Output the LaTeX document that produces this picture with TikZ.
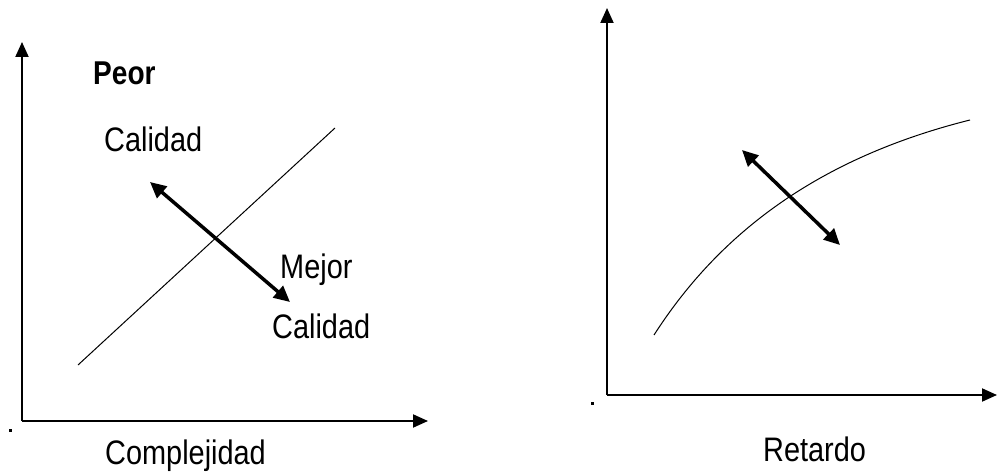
\documentclass[tikz,border=0pt]{standalone}
\usepackage{fontspec}
\setmainfont{Liberation Sans}[FakeStretch=0.85]
\usetikzlibrary{arrows.meta}
\tikzset{
  axis/.style={line width=2pt, -{Triangle[length=15pt,width=13pt]}},
  thinline/.style={line width=1pt},
  dbl/.style={line width=3.5pt, {Triangle[length=16pt,width=15pt]}-{Triangle[length=16pt,width=15pt]}},
  lbl/.style={anchor=base west, inner sep=0pt, font=\fontsize{34}{40}\selectfont},
  dot/.style={fill=black}
}
\begin{document}
\begin{tikzpicture}[x=1pt,y=-1pt]
\useasboundingbox (0,0) rectangle (997,476);
\fill[white] (0,0) rectangle (997,476);
% left chart
\coordinate (lo) at (22,421);
\coordinate (ly) at (22,42);
\coordinate (lx) at (428,421);
\draw[axis] (lo) -- (ly);
\draw[axis] (lo) -- (lx);
\fill[dot] (8.5,428.5) rectangle (11.5,431.5);
\coordinate (d1) at (78,365);
\coordinate (d2) at (335,128);
\draw[thinline] (d1) -- (d2);
\coordinate (a1) at (150,182);
\coordinate (a2) at (290,302);
\draw[dbl] (a1) -- (a2);
\node[lbl, font=\fontsize{33}{40}\selectfont\bfseries] (peor) at (93,85) {Peor};
\node[lbl] (cal1) at (104,152) {Calidad};
\node[lbl] (mejor) at (280,278) {Mejor};
\node[lbl] (cal2) at (272,338) {Calidad};
\node[lbl] (comp) at (105,464) {Complejidad};
% right chart
\coordinate (ro) at (607,395);
\coordinate (ry) at (607,8);
\coordinate (rx) at (997,395);
\draw[axis] (ro) -- (ry);
\draw[axis] (ro) -- (rx);
\fill[dot] (590.5,401.5) rectangle (593.5,404.5);
\coordinate (c1) at (654,335);
\coordinate (c2) at (970,120);
\draw[thinline] (c1) .. controls (715,240) and (810,160) .. (c2);
\coordinate (b1) at (742,150);
\coordinate (b2) at (840,245);
\draw[dbl] (b1) -- (b2);
\node[lbl] (ret) at (763,461) {Retardo};
\end{tikzpicture}
\end{document}
